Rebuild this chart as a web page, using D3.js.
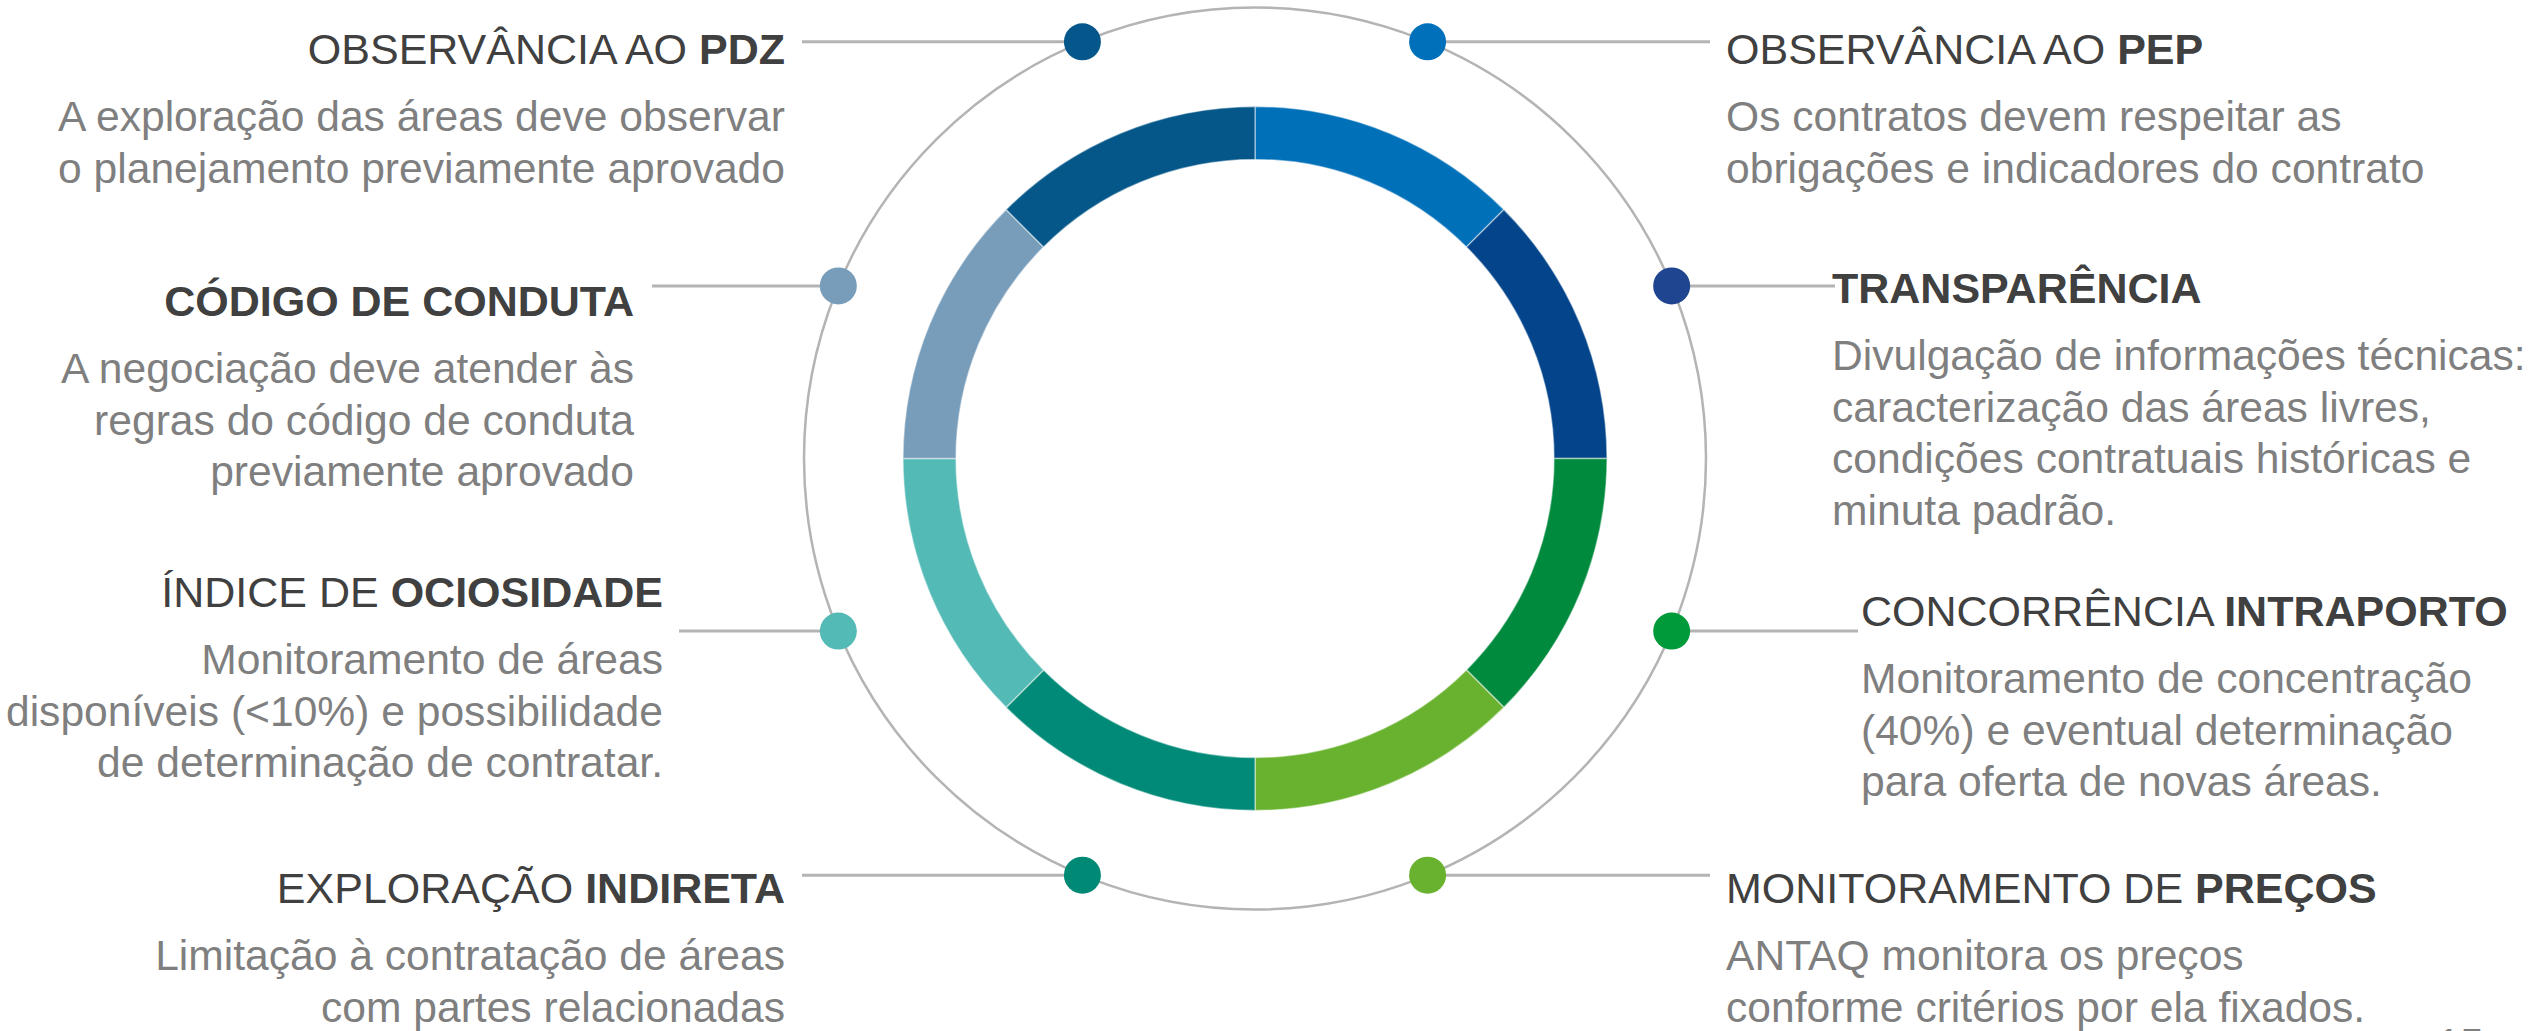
<!DOCTYPE html>
<html>
<head>
<meta charset="utf-8">
<script src="https://cdn.jsdelivr.net/npm/d3@7"></script>
<style>
  html, body { margin: 0; padding: 0; background: #fff; }
  #chart { width: 2529px; height: 1031px; overflow: hidden; }
  text { font-family: "Liberation Sans", Arial, Helvetica, sans-serif; }
</style>
</head>
<body>
<div id="chart"></div>
<script>
// pillars, clockwise from the top of the ring
const titlesPlain = ["OBSERVÂNCIA AO ", "", "CONCORRÊNCIA ", "MONITORAMENTO DE ", "EXPLORAÇÃO ", "ÍNDICE DE ", "", "OBSERVÂNCIA AO "];
const titlesBold = ["PEP", "TRANSPARÊNCIA", "INTRAPORTO", "PREÇOS", "INDIRETA", "OCIOSIDADE", "CÓDIGO DE CONDUTA", "PDZ"];
const descriptions = [
  ["Os contratos devem respeitar as", "obrigações e indicadores do contrato"],
  ["Divulgação de informações técnicas:", "caracterização das áreas livres,", "condições contratuais históricas e", "minuta padrão."],
  ["Monitoramento de concentração", "(40%) e eventual determinação", "para oferta de novas áreas."],
  ["ANTAQ monitora os preços", "conforme critérios por ela fixados."],
  ["Limitação à contratação de áreas", "com partes relacionadas"],
  ["Monitoramento de áreas", "disponíveis (<10%) e possibilidade", "de determinação de contratar."],
  ["A negociação deve atender às", "regras do código de conduta", "previamente aprovado"],
  ["A exploração das áreas deve observar", "o planejamento previamente aprovado"]
];
const segmentShare = [1, 1, 1, 1, 1, 1, 1, 1];
const segmentColors = ["#0070b9", "#03448a", "#008a3d", "#69b22f", "#008a77", "#53bab5", "#789dba", "#055789"];
const dotColors = ["#0070ba", "#204590", "#009a3a", "#69b22f", "#008a76", "#53bab5", "#789dba", "#05568a"];
const pageNumber = "15";

// label placement (layout only)
const labelLayout = [
  { side: "right", x: 1726, titleY: 64, lineEnd: 1710 },
  { side: "right", x: 1832, titleY: 303, lineEnd: 1835 },
  { side: "right", x: 1861, titleY: 626, lineEnd: 1858 },
  { side: "right", x: 1726, titleY: 903, lineEnd: 1710 },
  { side: "left", x: 785, titleY: 903, lineEnd: 802 },
  { side: "left", x: 663, titleY: 607, lineEnd: 679 },
  { side: "left", x: 634, titleY: 316, lineEnd: 652 },
  { side: "left", x: 785, titleY: 64, lineEnd: 802 }
];

const width = 2529, height = 1031;
const cx = 1255, cy = 458.5;
const ringOuter = 352, ringInner = 299, orbit = 451;
const lineGap = 51.5;

const svg = d3.select("#chart").append("svg")
  .attr("width", width)
  .attr("height", height);

const g = svg.append("g").attr("transform", `translate(${cx},${cy})`);

const pie = d3.pie().sort(null).value(d => d);
const arcs = pie(segmentShare);

const arc = d3.arc().innerRadius(ringInner).outerRadius(ringOuter);

// thin orbit circle
g.append("circle")
  .attr("r", orbit)
  .attr("fill", "none")
  .attr("stroke", "#b4b4b4")
  .attr("stroke-width", 2.5);

g.selectAll(".seg")
  .data(arcs)
  .enter().append("path")
  .attr("class", "seg")
  .attr("d", arc)
  .attr("fill", (d, i) => segmentColors[i])
  .attr("stroke", "#ffffff")
  .attr("stroke-opacity", 0.45)
  .attr("stroke-width", 1.5);

const dotPos = arcs.map(d => {
  const a = (d.startAngle + d.endAngle) / 2;
  return [orbit * Math.sin(a), -orbit * Math.cos(a)];
});

// leader lines
g.selectAll(".leader")
  .data(arcs)
  .enter().append("line")
  .attr("class", "leader")
  .attr("x1", (d, i) => dotPos[i][0])
  .attr("y1", (d, i) => dotPos[i][1])
  .attr("x2", (d, i) => labelLayout[i].lineEnd - cx)
  .attr("y2", (d, i) => dotPos[i][1])
  .attr("stroke", "#b4b4b4")
  .attr("stroke-width", 3);

g.selectAll(".dot")
  .data(arcs)
  .enter().append("circle")
  .attr("class", "dot")
  .attr("cx", (d, i) => dotPos[i][0])
  .attr("cy", (d, i) => dotPos[i][1])
  .attr("r", 18.5)
  .attr("fill", (d, i) => dotColors[i]);

// labels
const labels = svg.selectAll(".label")
  .data(titlesBold)
  .enter().append("g")
  .attr("class", "label");

labels.each(function(bold, i) {
  const lay = labelLayout[i];
  const anchor = lay.side === "left" ? "end" : "start";
  const sel = d3.select(this);
  const t = sel.append("text")
    .attr("x", lay.x)
    .attr("y", lay.titleY)
    .attr("text-anchor", anchor)
    .attr("font-size", 43)
    .attr("fill", "#404040");
  if (titlesPlain[i]) t.append("tspan").text(titlesPlain[i]);
  t.append("tspan").attr("font-weight", "bold").text(bold);

  sel.selectAll(".desc")
    .data(descriptions[i])
    .enter().append("text")
    .attr("class", "desc")
    .attr("x", lay.x)
    .attr("y", (d, j) => lay.titleY + 67 + j * lineGap)
    .attr("text-anchor", anchor)
    .attr("font-size", 42.6)
    .attr("fill", "#7f7f7f")
    .text(d => d);
});

svg.append("text")
  .attr("x", 2437)
  .attr("y", 1058)
  .attr("font-size", 42)
  .attr("fill", "#7f7f7f")
  .text(pageNumber);
</script>
</body>
</html>
